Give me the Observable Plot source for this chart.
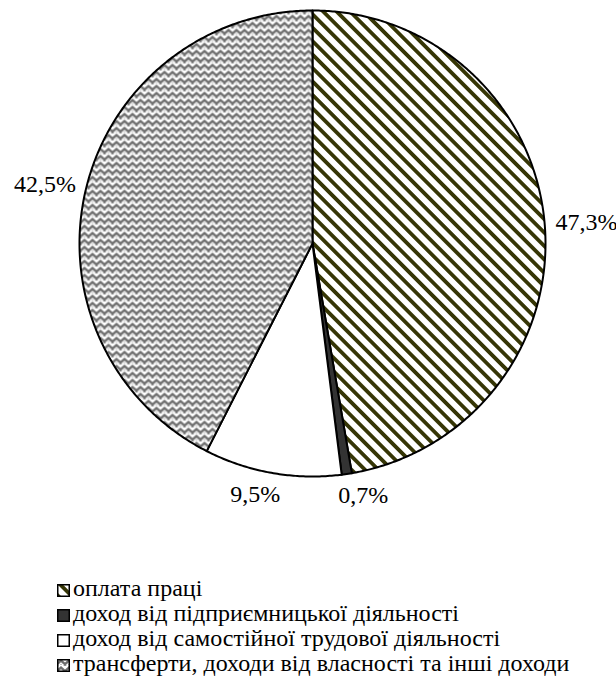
<!DOCTYPE html>
<html>
<head>
<meta charset="utf-8">
<script src="https://cdn.jsdelivr.net/npm/d3@7"></script>
<script src="https://cdn.jsdelivr.net/npm/@observablehq/plot@0.6"></script>
<style>
  body { margin: 0; background: #fff; font-family: "Liberation Serif", "Times New Roman", serif; }
  #chart svg { display: block; background: #fff; }
  #legend { margin-left: 57px; font-size: 24px; line-height: 25px; color: #000; }
  .row { white-space: nowrap; height: 25px; }
  .row svg { vertical-align: -1px; margin-right: 3px; }
</style>
</head>
<body>
<div id="chart"></div>
<div id="legend"></div>
<script>
// ---- data ----
const categories = [
  "оплата праці",
  "доход від підприємницької діяльності",
  "доход від самостійної трудової діяльності",
  "трансферти, доходи від власності та інші доходи"
];
const shares = [47.3, 0.7, 9.5, 42.5];

// ---- styling / layout (not data) ----
const fillRange = ["url(#stripes)", "#333333", "#ffffff", "url(#weave)"];
const W = 616, H = 576, CX = 312, CY = 243, RPX = 233;
const FONT = "'Liberation Serif', 'Times New Roman', serif";
const LABEL_SIZE = 24, GAP = 11, MIN_GAP = 58;

const arcs = d3.pie().sort(null).value(d => d)(shares);

// slice outlines as closed polygons in unit-circle coordinates
const pts = [];
arcs.forEach((a, i) => {
  const cat = categories[i];
  pts.push({X: 0, Y: 0, cat});
  const n = Math.max(2, Math.ceil((a.endAngle - a.startAngle) / (Math.PI / 360)));
  for (let k = 0; k <= n; k++) {
    const t = a.startAngle + (a.endAngle - a.startAngle) * k / n;
    pts.push({X: Math.sin(t), Y: Math.cos(t), cat});
  }
});

// label placement (outside end, with simple horizontal repulsion)
const ctx = document.createElement("canvas").getContext("2d");
ctx.font = `${LABEL_SIZE}px ${FONT}`;
const fmt = v => v.toFixed(1).replace(".", ",") + "%";
const labels = arcs.map((a, i) => {
  const m = (a.startAngle + a.endAngle) / 2;
  const ux = Math.sin(m), uy = Math.cos(m);
  const text = fmt(shares[i]);
  const w = ctx.measureText(text).width, h = LABEL_SIZE * 0.9;
  const r = 1 + GAP / RPX;
  return {
    X: r * ux + ux * (w / 2) / RPX,
    Y: r * uy + uy * (h / 2) / RPX,
    w, text
  };
});
for (let i = 0; i < labels.length - 1; i++) {
  const a = labels[i], b = labels[i + 1];
  if (Math.abs(a.Y - b.Y) * RPX < LABEL_SIZE) {
    const [l, r] = a.X < b.X ? [a, b] : [b, a];
    const gap = (r.X - l.X) * RPX - (l.w + r.w) / 2;
    if (gap < MIN_GAP) {
      const d = (MIN_GAP - gap) / 2 / RPX;
      l.X -= d; r.X += d;
    }
  }
}

const chart = Plot.plot({
  width: W,
  height: H,
  margin: 0,
  x: {domain: [-CX / RPX, (W - CX) / RPX], range: [0, W], axis: null},
  y: {domain: [-(H - CY) / RPX, CY / RPX], range: [H, 0], axis: null},
  color: {domain: categories, range: fillRange},
  style: {background: "#fff", overflow: "visible"},
  marks: [
    Plot.line(pts, {
      x: "X", y: "Y", z: "cat", fill: "cat",
      stroke: "#000", strokeWidth: 2, strokeLinejoin: "round",
      curve: "linear-closed"
    }),
    Plot.text(labels, {
      x: "X", y: "Y", text: "text",
      fontSize: LABEL_SIZE, fontFamily: FONT, fill: "#000",
      textAnchor: "middle", lineAnchor: "middle"
    })
  ]
});

const defs = `
<pattern id="stripes" patternUnits="userSpaceOnUse" width="9.5" height="9.5" patternTransform="rotate(-45)">
  <rect width="9.5" height="9.5" fill="#fff"/>
  <rect x="0" y="0" width="3.8" height="9.5" fill="#363606"/>
</pattern>
<pattern id="weave" patternUnits="userSpaceOnUse" width="8" height="7">
  <rect width="8" height="7" fill="#fff"/>
  <path d="M-0.5,5.6 L4,1.6 L8.5,5.6" fill="none" stroke="#6e6e6e" stroke-width="2.4"/>
  <path d="M-0.5,7.6 L1.2,6.2 M6.8,6.2 L8.5,7.6" fill="none" stroke="#8a8a8a" stroke-width="1.3"/>
  <circle cx="4" cy="5.4" r="0.7" fill="#9a9a9a"/>
</pattern>`;
d3.select(chart).insert("defs", ":first-child").html(defs);
document.getElementById("chart").appendChild(chart);

// legend
const legend = d3.select("#legend");
categories.forEach((c, i) => {
  const row = legend.append("div").attr("class", "row");
  row.append("svg").attr("width", 13).attr("height", 13)
    .append("rect").attr("x", 0.75).attr("y", 0.75).attr("width", 11.5).attr("height", 11.5)
    .attr("fill", fillRange[i]).attr("stroke", "#000").attr("stroke-width", 1.5);
  row.append("span").text(c);
});
</script>
</body>
</html>
